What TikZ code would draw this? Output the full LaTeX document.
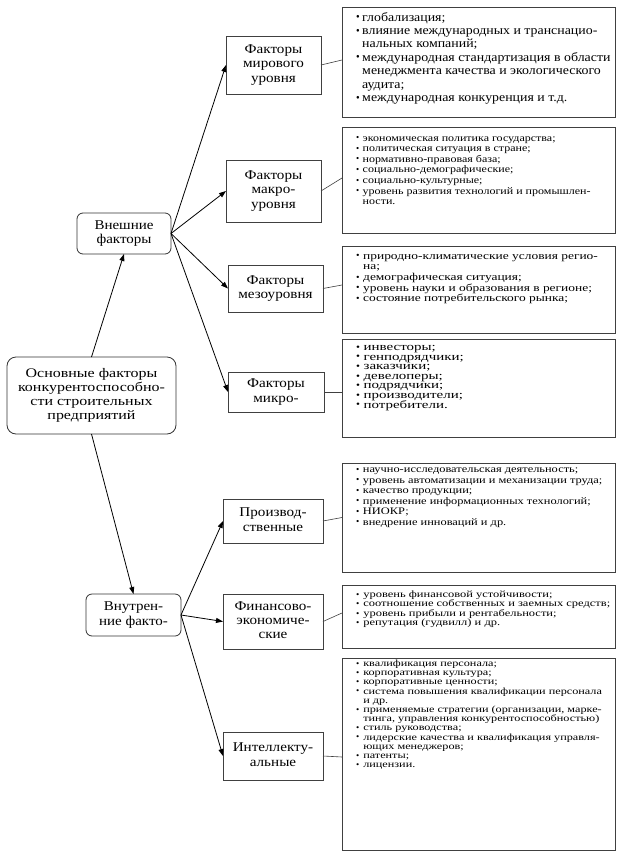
\documentclass[tikz,border=0pt]{standalone}
\usepackage{fontspec}
\usepackage{graphicx}
\setmainfont{Liberation Serif}
\usetikzlibrary{arrows.meta}

\newcommand\bt{\raisebox{0.05ex}{\scalebox{0.75}[0.9]{\textbullet}}}
\newcommand\bi{\makebox[5.6pt][l]{\bt}}
\newcommand\ci{\hspace*{5.6pt}}
\newcommand\rtext[4]{\scalebox{#1}[1]{\parbox[t]{300pt}{\fontsize{#2}{#3}\selectfont\lineskiplimit=-50pt\lineskip=0pt #4}}}
\newcommand\ct[2]{\scalebox{#1}[1]{\begin{tabular}{@{}c@{}}#2\end{tabular}}}

\tikzset{
  every node/.style={inner sep=0pt, outer sep=0pt},
  rnd/.style={draw=black!80, rounded corners=6pt, line width=0.8pt,
    font=\fontsize{13.4}{14.3}\selectfont},
  mbox/.style={draw=black!75, line width=0.8pt,
    font=\fontsize{13.4}{14.3}\selectfont},
  rbox/.style={draw=black!75, line width=0.8pt, minimum width=273pt},
  rtxt/.style={anchor=base west},
  arr/.style={-{Triangle[length=7pt,width=5pt]}, line width=0.8pt},
  lnk/.style={draw=black!75, line width=0.6pt}
}

\begin{document}
\begin{tikzpicture}[x=1pt, y=-1pt]
\fill[white] (0,0) rectangle (623,860);
\useasboundingbox (0,0) rectangle (623,860);

% left column
\node[rnd, rounded corners=9pt, minimum width=169pt, minimum height=77pt,
  font=\fontsize{13.1}{14}\selectfont] (main) at (91.5,395.5)
  {\ct{1.22}{Основные факторы\\конкурентоспособно-\\сти строительных\\предприятий}};
\node[rnd, minimum width=94pt, minimum height=41pt] (ext) at (124,233.5) {\ct{1.12}{Внешние\\факторы}};
\node[rnd, minimum width=95pt, minimum height=42pt] (int) at (133.5,615) {\ct{1.12}{Внутрен-\\ние факто-}};

% middle column
\node[mbox, minimum width=95pt, minimum height=58pt] (m1) at (273.5,65) {\ct{1.13}{Факторы\\мирового\\уровня}};
\node[mbox, minimum width=95pt, minimum height=62pt] (m2) at (273.5,191) {\ct{1.13}{Факторы\\макро-\\уровня}};
\node[mbox, minimum width=95pt, minimum height=47pt] (m3) at (275.5,288.5) {\ct{1.13}{Факторы\\мезоуровня}};
\node[mbox, minimum width=96pt, minimum height=40pt] (m4) at (276,392) {\ct{1.13}{Факторы\\микро-}};
\node[mbox, minimum width=100pt, minimum height=44pt] (m5) at (273,521) {\ct{1.13}{Производ-\\ственные}};
\node[mbox, minimum width=100pt, minimum height=55pt] (m6) at (273,621.5) {\ct{1.13}{Финансово-\\экономиче-\\ские}};
\node[mbox, minimum width=100pt, minimum height=48pt] (m7) at (273,756) {\ct{1.13}{Интеллекту-\\альные}};

% right column boxes
\node[rbox, minimum height=110pt] (r1) at (478.5,62) {};
\node[rbox, minimum height=106pt] (r2) at (478.5,180) {};
\node[rbox, minimum height=87pt] (r3) at (478.5,289.5) {};
\node[rbox, minimum height=98pt] (r4) at (478.5,388) {};
\node[rbox, minimum height=109pt] (r5) at (478.5,517.5) {};
\node[rbox, minimum height=63pt] (r6) at (478.5,616.5) {};
\node[rbox, minimum height=192pt] (r7) at (478.5,754) {};

% right column texts
\node[rtxt] (t1) at (356,21) {\rtext{1.11}{12.5}{13.4}{%
\bi глобализация;\\
\bi влияние международных и транснацио-\\
\ci нальных компаний;\\
\bi международная стандартизация в области\\
\ci менеджмента качества и экологического\\
\ci аудита;\\
\bi международная конкуренция и т.д.}};

\node[rtxt] (t2) at (356,141) {\rtext{1.2}{10}{10.6}{%
\bi экономическая политика государства;\\
\bi политическая ситуация в стране;\\
\bi нормативно-правовая база;\\
\bi социально-демографические;\\
\bi социально-культурные;\\
\bi уровень развития технологий и промышлен-\\
\ci ности.}};

\node[rtxt] (t3) at (356,259) {\rtext{1.28}{10.5}{10.7}{%
\bi природно-климатические условия регио-\\
\ci на;\\
\bi демографическая ситуация;\\
\bi уровень науки и образования в регионе;\\
\bi состояние потребительского рынка;}};

\node[rtxt] (t4) at (356,350.5) {\rtext{1.36}{11}{9.6}{%
\bi инвесторы;\\
\bi генподрядчики;\\
\bi заказчики;\\
\bi девелоперы;\\
\bi подрядчики;\\
\bi производители;\\
\bi потребители.}};

\node[rtxt] (t5) at (356,472.5) {\rtext{1.24}{10}{10.5}{%
\bi научно-исследовательская деятельность;\\
\bi уровень автоматизации и механизации труда;\\
\bi качество продукции;\\
\bi применение информационных технологий;\\
\bi НИОКР;\\
\bi внедрение инноваций и др.}};

\node[rtxt] (t6) at (356,597.5) {\rtext{1.3}{9.6}{9.4}{%
\bi уровень финансовой устойчивости;\\
\bi соотношение собственных и заемных средств;\\
\bi уровень прибыли и рентабельности;\\
\bi репутация (гудвилл) и др.}};

\node[rtxt] (t7) at (356,666.5) {\rtext{1.3}{9.4}{9.2}{%
\bi квалификация персонала;\\
\bi корпоративная культура;\\
\bi корпоративные ценности;\\
\bi система повышения квалификации персонала\\
\ci и др.\\
\bi применяемые стратегии (организации, марке-\\
\ci тинга, управления конкурентоспособностью)\\
\bi стиль руководства;\\
\bi лидерские качества и квалификация управля-\\
\ci ющих менеджеров;\\
\bi патенты;\\
\bi лицензии.}};

% arrows
\draw[arr] (main.north) -- (ext.south);
\draw[arr] (main.south) -- (int.north);
\foreach \m in {m1,m2,m3,m4} \draw[arr] (ext.east) -- (\m.west);
\foreach \m in {m5,m6,m7} \draw[arr] (int.east) -- (\m.west);

% links
\draw[lnk] (m1.east) -- ([yshift=2pt]r1.west);
\draw[lnk] (m2.east) -- ([yshift=2pt]r2.west);
\draw[lnk] (m3.east) -- ([yshift=4.5pt]r3.west);
\draw[lnk] (m4.east) -- ([yshift=-4pt]r4.west);
\draw[lnk] (m5.east) -- (r5.west);
\draw[lnk] (m6.east) -- ([yshift=3.5pt]r6.west);
\draw[lnk] (m7.east) -- ([yshift=-3pt]r7.west);
\end{tikzpicture}
\end{document}
